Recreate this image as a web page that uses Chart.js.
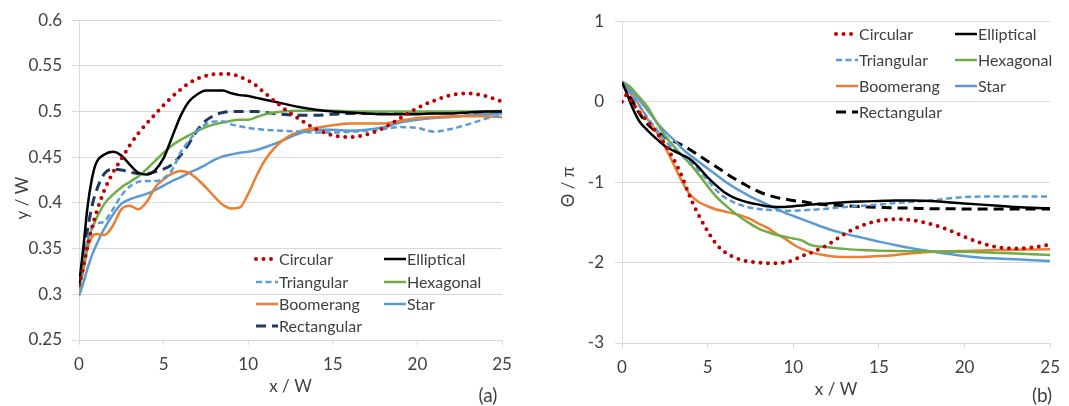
<!DOCTYPE html>
<html>
<head>
<meta charset="utf-8">
<script src="https://cdn.jsdelivr.net/npm/chart.js@4.4.1/dist/chart.umd.min.js"></script>
<style>
  body { margin: 0; background: #fff; }
  #wrap { position: relative; width: 1069px; height: 406px; }
  canvas { position: absolute; top: 0; }
</style>
</head>
<body>
<div id="wrap">
  <canvas id="chartA" width="540" height="406" style="left:0"></canvas>
  <canvas id="chartB" width="529" height="406" style="left:540px"></canvas>
</div>
<script>
// x positions (x / W) shared by every series
const xs = [0, 0.25, 0.5, 0.75, 1, 1.5, 2, 2.5, 3, 3.5, 4, 4.5, 5, 5.5, 6, 6.5, 7, 7.5, 8, 8.5,
            9, 9.5, 10, 10.5, 11, 12, 13, 14, 15, 16, 17, 18, 19, 20, 21, 22, 23, 24, 25];

const shapes = ["Circular", "Elliptical", "Triangular", "Hexagonal", "Boomerang", "Star", "Rectangular"];

// panel (a): y / W
const circularA   = [0.31, 0.33, 0.352, 0.372, 0.388, 0.414, 0.433, 0.448, 0.463, 0.476, 0.487, 0.497, 0.507, 0.516, 0.524, 0.531, 0.536, 0.539, 0.541, 0.541,
                     0.541, 0.538, 0.534, 0.528, 0.52, 0.505, 0.492, 0.481, 0.474, 0.472, 0.475, 0.482, 0.493, 0.504, 0.512, 0.518, 0.52, 0.517, 0.511];
const ellipticalA = [0.31, 0.35, 0.395, 0.425, 0.443, 0.453, 0.456, 0.452, 0.442, 0.433, 0.431, 0.436, 0.449, 0.472, 0.495, 0.511, 0.519, 0.523, 0.523, 0.523,
                     0.52, 0.518, 0.517, 0.515, 0.513, 0.509, 0.505, 0.502, 0.5, 0.499, 0.498, 0.497, 0.497, 0.497, 0.498, 0.498, 0.499, 0.5, 0.5];
const triangularA = [0.31, 0.335, 0.36, 0.372, 0.377, 0.38, 0.393, 0.408, 0.418, 0.423, 0.424, 0.424, 0.427, 0.436, 0.455, 0.468, 0.479, 0.486, 0.489, 0.489,
                     0.486, 0.484, 0.482, 0.481, 0.48, 0.479, 0.478, 0.477, 0.477, 0.478, 0.479, 0.481, 0.483, 0.482, 0.478, 0.481, 0.486, 0.492, 0.496];
const hexagonalA  = [0.305, 0.33, 0.357, 0.371, 0.382, 0.399, 0.409, 0.417, 0.423, 0.429, 0.437, 0.446, 0.455, 0.463, 0.469, 0.474, 0.479, 0.483, 0.486, 0.488,
                     0.49, 0.491, 0.491, 0.494, 0.497, 0.5, 0.501, 0.501, 0.501, 0.5, 0.5, 0.5, 0.5, 0.5, 0.5, 0.5, 0.5, 0.5, 0.501];
const boomerangA  = [0.305, 0.325, 0.35, 0.362, 0.366, 0.365, 0.375, 0.393, 0.397, 0.393, 0.401, 0.417, 0.426, 0.432, 0.435, 0.433, 0.426, 0.417, 0.407, 0.398,
                     0.394, 0.395, 0.41, 0.43, 0.447, 0.468, 0.478, 0.482, 0.485, 0.487, 0.487, 0.487, 0.49, 0.493, 0.494, 0.495, 0.495, 0.495, 0.494];
const starA       = [0.298, 0.312, 0.328, 0.342, 0.353, 0.372, 0.387, 0.399, 0.404, 0.407, 0.41, 0.414, 0.419, 0.424, 0.428, 0.433, 0.437, 0.442, 0.447, 0.451,
                     0.453, 0.455, 0.456, 0.458, 0.461, 0.468, 0.476, 0.48, 0.48, 0.479, 0.48, 0.483, 0.488, 0.491, 0.493, 0.494, 0.496, 0.497, 0.498];
const rectangularA = [0.31, 0.34, 0.37, 0.395, 0.412, 0.432, 0.437, 0.436, 0.434, 0.432, 0.432, 0.434, 0.437, 0.442, 0.452, 0.465, 0.48, 0.49, 0.496, 0.499,
                     0.5, 0.5, 0.5, 0.5, 0.499, 0.497, 0.496, 0.496, 0.497, 0.498, 0.498, 0.498, 0.499, 0.499, 0.499, 0.499, 0.499, 0.499, 0.499];

// panel (b): Θ / π
const circularB   = [0, 0.08, 0.02, -0.06, -0.13, -0.25, -0.38, -0.53, -0.71, -0.93, -1.2, -1.42, -1.61, -1.77, -1.87, -1.93, -1.97, -1.99, -2.0, -2.01,
                     -2.01, -2.0, -1.97, -1.92, -1.88, -1.78, -1.645, -1.54, -1.48, -1.46, -1.475, -1.52, -1.59, -1.68, -1.76, -1.81, -1.825, -1.81, -1.775];
const ellipticalB = [0.24, 0.12, -0.02, -0.14, -0.24, -0.36, -0.46, -0.55, -0.61, -0.66, -0.72, -0.82, -0.94, -1.04, -1.13, -1.19, -1.23, -1.26, -1.28, -1.3,
                     -1.31, -1.31, -1.3, -1.29, -1.28, -1.265, -1.25, -1.24, -1.235, -1.23, -1.23, -1.235, -1.25, -1.265, -1.28, -1.295, -1.31, -1.32, -1.325];
const triangularB = [0.25, 0.17, 0.1, 0.03, -0.05, -0.2, -0.34, -0.48, -0.59, -0.67, -0.75, -0.86, -0.98, -1.1, -1.19, -1.25, -1.29, -1.32, -1.335, -1.345,
                     -1.35, -1.355, -1.355, -1.35, -1.345, -1.33, -1.31, -1.295, -1.28, -1.26, -1.245, -1.23, -1.205, -1.185, -1.18, -1.18, -1.18, -1.18, -1.18];
const hexagonalB  = [0.25, 0.22, 0.18, 0.12, 0.06, -0.07, -0.25, -0.42, -0.55, -0.67, -0.78, -0.91, -1.05, -1.18, -1.28, -1.37, -1.45, -1.52, -1.58, -1.62,
                     -1.655, -1.68, -1.7, -1.725, -1.78, -1.81, -1.83, -1.845, -1.852, -1.857, -1.86, -1.862, -1.865, -1.866, -1.872, -1.88, -1.888, -1.897, -1.906];
const boomerangB  = [0.21, 0.16, 0.1, 0.03, -0.04, -0.22, -0.37, -0.56, -0.77, -0.99, -1.16, -1.25, -1.3, -1.34, -1.365, -1.39, -1.42, -1.46, -1.52, -1.57,
                     -1.64, -1.7, -1.775, -1.83, -1.87, -1.915, -1.93, -1.93, -1.92, -1.905, -1.885, -1.87, -1.86, -1.855, -1.85, -1.845, -1.84, -1.838, -1.836];
const starB       = [0.25, 0.2, 0.14, 0.08, 0.02, -0.11, -0.25, -0.37, -0.47, -0.58, -0.67, -0.75, -0.83, -0.91, -0.99, -1.06, -1.12, -1.18, -1.23, -1.28,
                     -1.33, -1.38, -1.42, -1.46, -1.5, -1.58, -1.64, -1.69, -1.74, -1.785, -1.825, -1.86, -1.89, -1.92, -1.94, -1.95, -1.96, -1.97, -1.98];
const rectangularB = [0.24, 0.15, 0.06, -0.05, -0.14, -0.28, -0.37, -0.44, -0.49, -0.54, -0.6, -0.67, -0.74, -0.81, -0.88, -0.95, -1.01, -1.07, -1.12, -1.16,
                     -1.19, -1.21, -1.23, -1.24, -1.26, -1.285, -1.295, -1.305, -1.315, -1.32, -1.325, -1.33, -1.332, -1.333, -1.334, -1.335, -1.335, -1.335, -1.335];

const xTicks = [0, 5, 10, 15, 20, 25];
const yTicksA = [0.25, 0.3, 0.35, 0.4, 0.45, 0.5, 0.55, 0.6];
const yTicksB = [-3, -2, -1, 0, 1];

const TEXT = "#404040";
const GRID = "#d9d9d9";
const FONT = "Lato";

// line look of each shape, in the order of `shapes`
function lineStyles(rectColor) {
    return [
        { borderColor: "#c00000", borderWidth: 4, borderDash: [0, 7.5], borderCapStyle: "round" },
        { borderColor: "#000000", borderWidth: 2.5 },
        { borderColor: "#5b9bd5", borderWidth: 2.5, borderDash: [6, 3.5] },
        { borderColor: "#70ad47", borderWidth: 2.5 },
        { borderColor: "#ed7d31", borderWidth: 2.5 },
        { borderColor: "#5b9bd5", borderWidth: 2.5 },
        { borderColor: rectColor, borderWidth: 3, borderDash: [10, 6] },
    ];
}

// two-column legend drawn inside the plot
const boxLegend = {
    id: "boxLegend",
    afterDatasetsDraw(chart, args, opts) {
        const ctx = chart.ctx;
        ctx.save();
        ctx.font = "16px " + FONT;
        ctx.textBaseline = "middle";
        ctx.fillStyle = TEXT;
        chart.data.datasets.forEach((ds, i) => {
            const x = opts.cols[i % 2];
            const y = opts.rows[Math.floor(i / 2)];
            ctx.save();
            ctx.strokeStyle = ds.borderColor;
            ctx.lineWidth = ds.borderWidth;
            ctx.setLineDash(ds.borderDash || []);
            ctx.lineCap = ds.borderCapStyle || "butt";
            ctx.beginPath();
            ctx.moveTo(x, y);
            ctx.lineTo(x + opts.sample, y);
            ctx.stroke();
            ctx.restore();
            ctx.fillText(ds.label, x + opts.sample + 1, y + 1);
        });
        ctx.restore();
    },
};

// rotated y title and the panel letter
const panelText = {
    id: "panelText",
    afterDraw(chart, args, opts) {
        const ctx = chart.ctx;
        ctx.save();
        ctx.fillStyle = TEXT;
        ctx.textAlign = "center";
        ctx.textBaseline = "middle";
        ctx.font = "17px " + FONT;
        ctx.translate(opts.yTitleX, opts.yTitleY);
        ctx.rotate(-Math.PI / 2);
        ctx.fillText(opts.yTitle, 0, 0);
        ctx.restore();
        ctx.save();
        ctx.fillStyle = TEXT;
        ctx.textAlign = "center";
        ctx.textBaseline = "middle";
        ctx.font = "19px " + FONT;
        ctx.fillText(opts.letter, opts.letterX, opts.letterY);
        ctx.restore();
    },
};

function makeChart(id, seriesList, rectColor, y, box) {
    const styles = lineStyles(rectColor);
    return new Chart(document.getElementById(id), {
        type: "line",
        data: {
            datasets: seriesList.map((vals, i) => ({
                label: shapes[i],
                data: vals.map((v, k) => ({ x: xs[k], y: v })),
                pointRadius: 0,
                fill: false,
                cubicInterpolationMode: "monotone",
                ...styles[i],
            })),
        },
        options: {
            responsive: false,
            animation: false,
            events: [],
            layout: { padding: { top: box.top, right: box.right, left: 0, bottom: 0 } },
            plugins: {
                legend: { display: false },
                tooltip: { enabled: false },
                boxLegend: box.legend,
                panelText: box.text,
            },
            scales: {
                x: {
                    type: "linear",
                    min: 0,
                    max: 25,
                    afterBuildTicks: (s) => { s.ticks = xTicks.map((v) => ({ value: v })); },
                    afterFit: (s) => { s.height = box.xHeight; },
                    ticks: { color: TEXT, font: { family: FONT, size: 17 }, padding: 9, maxRotation: 0 },
                    grid: { drawOnChartArea: false, drawTicks: true, tickLength: 5, color: GRID },
                    border: { display: true, color: GRID },
                    title: {
                        display: true,
                        text: "x / W",
                        color: TEXT,
                        font: { family: FONT, size: 17 },
                        padding: { top: 0, bottom: box.xTitlePad },
                    },
                },
                y: {
                    min: y.min,
                    max: y.max,
                    afterBuildTicks: (s) => { s.ticks = y.ticks.map((v) => ({ value: v })); },
                    afterFit: (s) => { s.width = box.yWidth; },
                    ticks: { color: TEXT, font: { family: FONT, size: 17 }, padding: box.yPad, callback: (v) => String(v) },
                    grid: { color: GRID, tickLength: 7 },
                    border: { display: true, color: GRID },
                },
            },
        },
        plugins: [boxLegend, panelText],
    });
}

makeChart("chartA",
    [circularA, ellipticalA, triangularA, hexagonalA, boomerangA, starA, rectangularA],
    "#1f3864",
    { min: 0.25, max: 0.6, ticks: yTicksA },
    {
        top: 19, right: 38, xHeight: 66, yWidth: 79, yPad: 10, xTitlePad: 9,
        legend: { cols: [256, 384], rows: [259, 282, 304, 326], sample: 22 },
        text: { yTitle: "y / W", yTitleX: 23, yTitleY: 198, letter: "(a)", letterX: 488, letterY: 396 },
    });

makeChart("chartB",
    [circularB, ellipticalB, triangularB, hexagonalB, boomerangB, starB, rectangularB],
    "#000000",
    { min: -3, max: 1, ticks: yTicksB },
    {
        top: 18, right: 12, xHeight: 63, yWidth: 82, yPad: 11, xTitlePad: 6,
        legend: { cols: [296, 415], rows: [34, 60, 86, 112], sample: 22 },
        text: { yTitle: "Θ / π", yTitleX: 29, yTitleY: 187, letter: "(b)", letterX: 502, letterY: 396 },
    });
</script>
</body>
</html>
